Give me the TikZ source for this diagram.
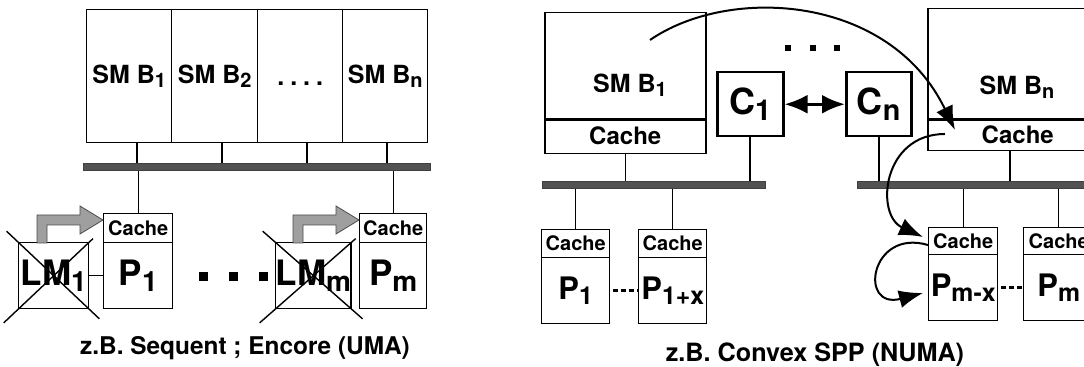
\documentclass[tikz,border=0pt]{standalone}
\usepackage{fontspec}
\setmainfont{TeX Gyre Heros}
\usepackage{graphicx}
\usetikzlibrary{arrows.meta,calc}
\newcommand\idx[1]{\raisebox{-0.16em}{\scalebox{0.8}{#1}}}
\newcommand\fs[1]{\fontsize{#1}{#1}\selectfont\bfseries}
\begin{document}
\begin{tikzpicture}[x=0.5pt,y=-0.5pt,
  box/.style={draw, line width=0.7pt, inner sep=0pt, anchor=north west, align=center},
  bus/.style={fill=black!68, draw=black!75, line width=0.3pt, inner sep=0pt, anchor=north west},
  thinl/.style={line width=0.7pt},
  sqdot/.style={fill=black, inner sep=0pt, minimum size=#1},
  garrow/.style={fill=gray!75, draw=black!70, line width=0.4pt},
  curvearrow/.style={line width=1pt, -{Latex[length=12pt,width=9pt]}},
  dotline/.style={line width=1.3pt, dash pattern=on 2.5pt off 1.5pt}
]
\clip (0,0) rectangle (1084,367);
\fill[white] (0,0) rectangle (1084,367);

% ================= left panel =================
\node[box, minimum width=42.5pt, minimum height=66.5pt, font={\fs{12.5pt}}] (smA) at (86,9) {SM B\idx{1}};
\node[box, minimum width=43pt, minimum height=66.5pt, font={\fs{12.5pt}}] (smB) at (171,9) {SM B\idx{2}};
\node[box, minimum width=42.5pt, minimum height=66.5pt, font={\fs{12.5pt}}] (smC) at (257,9) {\vphantom{SM B}.\kern3pt.\kern3pt.\kern3pt.};
\node[box, minimum width=42.5pt, minimum height=66.5pt, font={\fs{12.5pt}}] (smD) at (342,9) {SM B\idx{n}};

\node[bus, minimum width=173.5pt, minimum height=3.5pt] (busL) at (83,163) {};

\coordinate (sa) at (137,142);
\coordinate (sb) at (222,142);
\coordinate (sc) at (307,142);
\coordinate (sd) at (387,142);
\draw[thinl] (smA.south -| sa) -- (busL.north -| sa);
\draw[thinl] (smB.south -| sb) -- (busL.north -| sb);
\draw[thinl] (smC.south -| sc) -- (busL.north -| sc);
\draw[thinl] (smD.south -| sd) -- (busL.north -| sd);

\node[box, minimum width=34.5pt, minimum height=14.5pt, font={\fs{10pt}}] (cL1) at (103,213) {Cache};
\node[box, minimum width=34.5pt, minimum height=33pt, font={\fs{17.5pt}}] (pL1) at (103,242) {P\idx{1}};
\node[box, minimum width=33.5pt, minimum height=14.5pt, font={\fs{10pt}}] (cLm) at (359,213) {Cache};
\node[box, minimum width=33.5pt, minimum height=33pt, font={\fs{17.5pt}}] (pLm) at (359,242) {P\idx{m}};

\draw[thinl] (busL.south -| cL1.north) -- (cL1.north);
\draw[thinl] (busL.south -| cLm.north) -- (cLm.north);

\node[box, minimum width=35pt, minimum height=33pt, font={\fs{17.5pt}}] (lm1) at (18,242) {LM\idx{1}};
\node[box, minimum width=35pt, minimum height=33pt, font={\fs{17.5pt}}] (lmm) at (275,242) {LM\idx{m}};
\draw[thinl] (lm1.east) -- (pL1.west);

\foreach \n in {lm1,lmm}{
  \draw[thinl] ($(\n.north west)!-0.16!(\n.south east)$) -- ($(\n.south east)!-0.14!(\n.north west)$);
  \draw[thinl] ($(\n.south west)!-0.2!(\n.north east)$) -- ($(\n.north east)!-0.05!(\n.south west)$);
}

\foreach \dx in {0,256}{
  \begin{scope}[shift={(\dx,0)}]
    \draw[garrow] (37,243) -- (37,215) -- (80,215) -- (80,206) -- (103,220) -- (80,234) -- (80,225) -- (47,225) -- (47,243) -- cycle;
  \end{scope}
}

\node[sqdot=4.5pt] (d1) at (203,277) {};
\node[sqdot=4.5pt] (d2) at (233,277) {};
\node[sqdot=4.5pt] (d3) at (263,277) {};

\node[font={\fs{12.2pt}}] (capL) at (245,348) {z.B. Sequent ; Encore (UMA)};

% ================= right panel =================
\node[box, line width=0.75pt, minimum width=80.5pt, minimum height=53pt] (smR1) at (544,12) {};
\node[font={\fs{12.5pt}}] (tR1) at (630,85) {SM B\idx{1}};
\node[box, line width=0.75pt, minimum width=80.5pt, minimum height=17.5pt, font={\fs{12pt}}] (caR1) at (544,118) {Cache};
\draw[line width=1.4pt] (smR1.south west) -- (smR1.south east);

\node[box, line width=0.75pt, minimum width=90pt, minimum height=55pt] (smRn) at (927,8) {};
\node[font={\fs{12.5pt}}] (tRn) at (1017,87) {SM B\idx{n}};
\node[box, line width=0.75pt, minimum width=90pt, minimum height=16pt, font={\fs{12pt}}] (caRn) at (927,118) {Cache};
\draw[line width=1.4pt] (smRn.south west) -- (smRn.south east);

\node[box, line width=1.25pt, minimum width=33pt, minimum height=32pt, font={\fs{18pt}}] (c1) at (716,71) {C\idx{1}};
\node[box, line width=1.25pt, minimum width=32.5pt, minimum height=32pt, font={\fs{18pt}}] (cn) at (845,71) {C\idx{n}};
\draw[line width=1.5pt, {Latex[length=11.5pt,width=9.5pt]}-{Latex[length=11.5pt,width=9.5pt]}] (c1.east) -- (cn.west);

\node[sqdot=3pt] (e1) at (788,48) {};
\node[sqdot=3pt] (e2) at (813,48) {};
\node[sqdot=3pt] (e3) at (837,48) {};

\node[bus, minimum width=111.5pt, minimum height=3.5pt] (busR1) at (542,181) {};
\node[bus, minimum width=120pt, minimum height=3.5pt] (busR2) at (857,181) {};

\coordinate (se) at (1010,150);
\draw[thinl] (caR1.south) -- (caR1.south |- busR1.north);
\draw[line width=1.1pt] (c1.south) -- (c1.south |- busR1.north);
\draw[line width=1.1pt] (cn.south) -- (cn.south |- busR2.north);
\draw[thinl] (caRn.south -| se) -- (busR2.north -| se);

\node[box, minimum width=34pt, minimum height=14pt, font={\fs{10pt}}] (cR1) at (541,229) {Cache};
\node[box, minimum width=34pt, minimum height=33pt, font={\fs{15.5pt}}] (pR1) at (541,257) {P\idx{1}};
\node[box, minimum width=34pt, minimum height=14pt, font={\fs{10pt}}] (cR2) at (638,229) {Cache};
\node[box, minimum width=34pt, minimum height=33pt, font={\fs{15.5pt}}] (pR2) at (638,257) {P\idx{1+x}};
\node[box, minimum width=34.5pt, minimum height=13.5pt, font={\fs{10pt}}] (cR3) at (928,227) {Cache};
\node[box, minimum width=34.5pt, minimum height=33pt, font={\fs{15.5pt}}] (pR3) at (928,254) {P\idx{m-x}};
\node[box, minimum width=35pt, minimum height=13.5pt, font={\fs{10pt}}] (cR4) at (1023,227) {Cache};
\node[box, minimum width=35pt, minimum height=33pt, font={\fs{15.5pt}}] (pR4) at (1023,254) {P\idx{m}};

\draw[thinl] (busR1.south -| cR1.north) -- (cR1.north);
\draw[thinl] (busR1.south -| cR2.north) -- (cR2.north);
\draw[thinl] (busR2.south -| cR3.north) -- (cR3.north);
\draw[thinl] (busR2.south -| cR4.north) -- (cR4.north);

\draw[dotline] ([xshift=1.2pt]pR1.east) -- (pR2.west);
\draw[dotline] ([xshift=1.2pt]pR3.east) -- (pR4.west);

\coordinate (k1s) at (650,40);
\coordinate (k1e) at (955,130);
\coordinate (k2s) at (945,134);
\coordinate (k2e) at (923,237);
\coordinate (k3s) at (928,245);
\coordinate (k3e) at (923,293);
\draw[curvearrow] (k1s) .. controls (730,-15) and (890,-5) .. (k1e);
\draw[curvearrow] (k2s) .. controls (882,134) and (875,215) .. (k2e);
\draw[curvearrow] (k3s) .. controls (870,228) and (858,310) .. (k3e);

\node[font={\fs{12.6pt}}] (capR) at (815,355) {z.B. Convex SPP (NUMA)};
\end{tikzpicture}
\end{document}
